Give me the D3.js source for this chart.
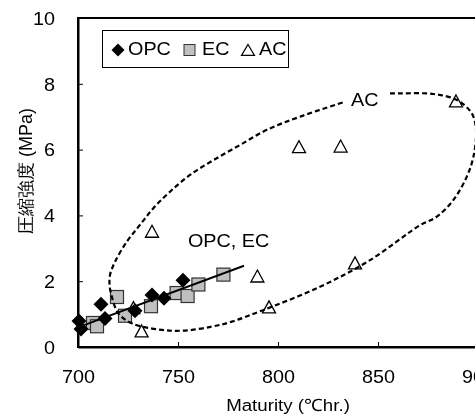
<!DOCTYPE html>
<html>
<head>
<meta charset="utf-8">
<script src="https://cdn.jsdelivr.net/npm/d3@7"></script>
<style>
  html, body { margin: 0; padding: 0; background: #fff; }
  svg { display: block; filter: grayscale(1); }
  text { font-family: "Liberation Sans", Arial, sans-serif; fill: #000; }
</style>
</head>
<body>
<svg id="chart" width="475" height="416"></svg>
<script>
// ---- data ----
const opcMaturity = [700.5, 701.5, 711.5, 713.5, 728.5, 737, 743, 752.5];
const opcStrength = [0.79, 0.55, 1.30, 0.87, 1.10, 1.58, 1.48, 2.03];

const ecMaturity = [707.5, 709.5, 719.5, 723.5, 736.5, 749.3, 754.8, 760.2, 772.7];
const ecStrength = [0.73, 0.63, 1.52, 0.95, 1.24, 1.64, 1.55, 1.90, 2.20];

const acMaturity = [727.7, 731.8, 737, 789.7, 795.5, 810.5, 831.3, 838.5, 889];
const acStrength = [1.18, 0.47, 3.50, 2.14, 1.20, 6.07, 6.09, 2.54, 7.46];

// regression line for OPC, EC (end points)
const fitMaturity = [701, 783];
const fitStrength = [0.62, 2.47];

// hand-drawn AC envelope (dashed)
const envMaturity = [856, 861, 877.7, 889.4, 896.9, 899, 897.7, 894.4, 887.7, 879.4, 871, 846, 821, 792.5, 776.9, 766.9, 753.5, 741.9, 726.9, 720.2, 716.9, 715.8, 716, 718.5, 724.4, 731, 737.7, 746, 756, 767.7, 781, 794.4, 811, 832.7];
const envStrength = [7.71, 7.71, 7.69, 7.51, 7.10, 6.60, 5.78, 5.18, 4.47, 3.96, 3.70, 2.64, 1.83, 1.12, 0.77, 0.62, 0.50, 0.52, 0.72, 1.02, 1.53, 1.88, 2.19, 2.59, 3.20, 3.71, 4.22, 4.72, 5.23, 5.68, 6.14, 6.60, 7.00, 7.44];

const xTicks = [700, 750, 800, 850, 900];
const yTicks = [0, 2, 4, 6, 8, 10];
const seriesNames = ["OPC", "EC", "AC"];
const xTitle = "Maturity (℃hr.)";
const yTitle = "圧縮強度 (MPa)";

// ---- drawing ----
const svg = d3.select("#chart");
const x = d3.scaleLinear().domain([700, 900]).range([78, 478]);
const y = d3.scaleLinear().domain([0, 10]).range([347, 18]);
const FS = 18, SX = 1.1;

function stretch(sel) {
  sel.each(function () {
    const t = d3.select(this);
    const tx = +t.attr("x") || 0, ty = +t.attr("y") || 0;
    t.attr("transform", `translate(${tx},${ty}) scale(${SX},1) translate(${-tx},${-ty})`);
  });
}

const zip = (a, b) => a.map((d, i) => [d, b[i]]);

// frame
svg.append("rect").attr("x", x(700)).attr("y", y(10))
  .attr("width", x(900) - x(700)).attr("height", y(0) - y(10))
  .attr("fill", "none").attr("stroke", "#000").attr("stroke-width", 2);

// axes
const gx = svg.append("g").attr("transform", `translate(0,${y(0)})`)
  .call(d3.axisBottom(x).tickValues(xTicks).tickSize(-5).tickPadding(23).tickSizeOuter(0));
const gy = svg.append("g").attr("transform", `translate(${x(700)},0)`)
  .call(d3.axisLeft(y).tickValues(yTicks).tickSize(-5).tickPadding(23).tickSizeOuter(0));
[gx, gy].forEach(g => {
  g.select(".domain").attr("stroke", "#000").attr("stroke-width", 2);
  g.selectAll(".tick line").attr("stroke", "#000").attr("stroke-width", 1);
  g.selectAll("text").attr("font-size", FS).attr("font-family", "Liberation Sans, Arial, sans-serif").attr("fill", "#000");
});
gx.selectAll(".tick text").each(function () {
  d3.select(this).attr("x", 0).attr("y", 23 + 0.71 * FS).attr("dy", null);
}).call(stretch);
gy.selectAll(".tick text").each(function () {
  d3.select(this).attr("y", 0.35 * FS).attr("dy", null);
}).call(stretch);

// markers
const diamond = s => `M0,${-s}L${s},0L0,${s}L${-s},0Z`;
const tri = (w, h) => `M0,${-h * 0.55}L${w / 2},${h * 0.45}L${-w / 2},${h * 0.45}Z`;

svg.append("g").selectAll("path").data(zip(acMaturity, acStrength)).join("path")
  .attr("d", tri(13, 12))
  .attr("transform", d => `translate(${x(d[0])},${y(d[1])})`)
  .attr("fill", "#fff").attr("stroke", "#000").attr("stroke-width", 1.3);

svg.append("g").selectAll("rect").data(zip(ecMaturity, ecStrength)).join("rect")
  .attr("x", d => x(d[0]) - 6.5).attr("y", d => y(d[1]) - 6.5)
  .attr("width", 13).attr("height", 13)
  .attr("fill", "#c0c0c0").attr("stroke", "#333").attr("stroke-width", 1.2);

svg.append("g").selectAll("path").data(zip(opcMaturity, opcStrength)).join("path")
  .attr("d", diamond(7.5))
  .attr("transform", d => `translate(${x(d[0])},${y(d[1])})`)
  .attr("fill", "#000");

// regression line
svg.append("path").datum(zip(fitMaturity, fitStrength))
  .attr("d", d3.line().x(d => x(d[0])).y(d => y(d[1])))
  .attr("stroke", "#000").attr("stroke-width", 2).attr("fill", "none");

// AC envelope
svg.append("path").datum(zip(envMaturity, envStrength))
  .attr("d", d3.line().x(d => x(d[0])).y(d => y(d[1])).curve(d3.curveCatmullRom.alpha(0.5)))
  .attr("stroke", "#000").attr("stroke-width", 2.2).attr("fill", "none")
  .attr("stroke-dasharray", "5,3");

// annotations
svg.append("text").attr("x", 188).attr("y", 247).attr("font-size", FS).text("OPC, EC").call(stretch);
svg.append("text").attr("x", 351).attr("y", 106).attr("font-size", FS).text("AC").call(stretch);

// legend
const lg = svg.append("g");
lg.append("rect").attr("x", 102.5).attr("y", 30.5).attr("width", 186).attr("height", 37)
  .attr("fill", "#fff").attr("stroke", "#000").attr("stroke-width", 1);
lg.append("path").attr("d", diamond(6.5)).attr("transform", "translate(118,50)").attr("fill", "#000");
lg.append("text").attr("x", 128).attr("y", 55.5).attr("font-size", FS).text(seriesNames[0]).call(stretch);
lg.append("rect").attr("x", 184).attr("y", 44.5).attr("width", 11).attr("height", 11)
  .attr("fill", "#c0c0c0").attr("stroke", "#333").attr("stroke-width", 1);
lg.append("text").attr("x", 202).attr("y", 55.5).attr("font-size", FS).text(seriesNames[1]).call(stretch);
lg.append("path").attr("d", tri(13, 11)).attr("transform", "translate(248,50.5)")
  .attr("fill", "#fff").attr("stroke", "#000").attr("stroke-width", 1.2);
lg.append("text").attr("x", 259).attr("y", 55.5).attr("font-size", FS).text(seriesNames[2]).call(stretch);

// axis titles
svg.append("text").attr("x", 288).attr("y", 411).attr("text-anchor", "middle")
  .attr("font-size", 17).text(xTitle).call(stretch);
svg.append("text").attr("transform", "translate(32,171) rotate(-90)")
  .attr("text-anchor", "middle").attr("font-size", FS).text(yTitle);
</script>
</body>
</html>
